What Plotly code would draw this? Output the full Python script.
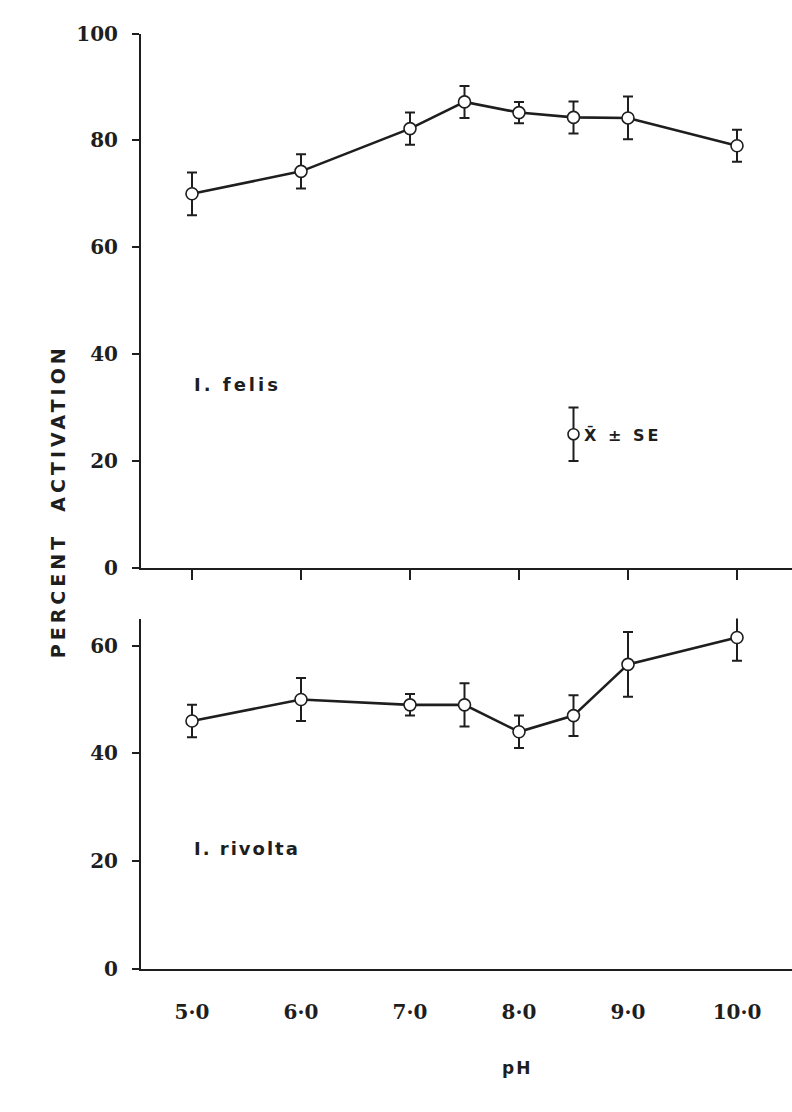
import plotly.graph_objects as go

# ---------------- data ----------------
ph = [5.0, 6.0, 7.0, 7.5, 8.0, 8.5, 9.0, 10.0]

felis_mean = [70.0, 74.2, 82.2, 87.2, 85.2, 84.3, 84.2, 79.0]
felis_se = [4.0, 3.2, 3.0, 3.0, 2.0, 3.0, 4.0, 3.0]

rivolta_mean = [46.0, 50.0, 49.0, 49.0, 44.0, 47.0, 56.5, 61.5]
rivolta_se = [3.0, 4.0, 2.0, 4.0, 3.0, 3.8, 6.0, 4.3]

x_tickvals = [5, 6, 7, 8, 9, 10]
x_ticktext = ["5·0", "6·0", "7·0", "8·0", "9·0", "10·0"]
top_yticks = [0, 20, 40, 60, 80, 100]
bottom_yticks = [0, 20, 40, 60]

key_x, key_y, key_se = [8.5], [25.0], [5.0]

# ---------------- geometry ----------------
W, H = 792, 1112
INK = "#1e1e1e"
AX_LEFT = 141
X_RANGE = [5 - 51 / 109, 5 - 51 / 109 + (W - AX_LEFT) / 109]


def py(p):
    return 1 - p / H


fig = go.Figure()

common_err = dict(type="data", visible=True, thickness=2, width=5, color=INK)
marker = dict(symbol="circle", size=12, color="white", line=dict(width=1.6, color=INK))

fig.add_trace(go.Scatter(
    x=ph, y=felis_mean, mode="lines+markers",
    line=dict(color=INK, width=2.6), marker=marker,
    error_y=dict(array=felis_se, **common_err),
    xaxis="x", yaxis="y", showlegend=False, cliponaxis=False))

fig.add_trace(go.Scatter(
    x=ph, y=rivolta_mean, mode="lines+markers",
    line=dict(color=INK, width=2.6), marker=marker,
    error_y=dict(array=rivolta_se, **common_err),
    xaxis="x2", yaxis="y2", showlegend=False, cliponaxis=False))

# key symbol (x̄ ± SE)
fig.add_trace(go.Scatter(
    x=key_x, y=key_y, mode="markers",
    marker=dict(symbol="circle", size=11, color="white", line=dict(width=1.6, color=INK)),
    error_y=dict(array=key_se, **common_err),
    xaxis="x", yaxis="y", showlegend=False, cliponaxis=False))

tickfont = dict(family="DejaVu Serif", size=20, color=INK, weight="bold")

fig.update_layout(
    width=W, height=H,
    margin=dict(l=0, r=0, t=0, b=0),
    paper_bgcolor="white", plot_bgcolor="white",
    xaxis=dict(domain=[AX_LEFT / W, 1], range=X_RANGE, anchor="y",
               showline=True, linecolor=INK, linewidth=2,
               tickvals=x_tickvals, ticks="outside", ticklen=10, tickwidth=2, tickcolor=INK,
               showticklabels=False, showgrid=False, zeroline=False),
    yaxis=dict(domain=[py(568), py(22)], range=[0, 100], anchor="x",
               showline=True, linecolor=INK, linewidth=2,
               tickvals=top_yticks, ticks="outside", ticklen=7, tickwidth=2, tickcolor=INK,
               tickfont=tickfont, ticklabelstandoff=10,
               showgrid=False, zeroline=False),
    xaxis2=dict(domain=[AX_LEFT / W, 1], range=X_RANGE, anchor="y2",
                showline=True, linecolor=INK, linewidth=2,
                tickvals=x_tickvals, ticktext=x_ticktext, ticks="",
                tickfont=tickfont, ticklabelstandoff=24,
                showgrid=False, zeroline=False),
    yaxis2=dict(domain=[py(978), py(620)], range=[0, 65], anchor="x2",
                showline=True, linecolor=INK, linewidth=2,
                tickvals=bottom_yticks, ticks="outside", ticklen=7, tickwidth=2, tickcolor=INK,
                tickfont=tickfont, ticklabelstandoff=10,
                showgrid=False, zeroline=False),
)

sans = "DejaVu Sans"
fig.add_annotation(text='<span style="letter-spacing:4px">PERCENT  ACTIVATION</span>',
                   xref="paper", yref="paper", x=45 / W, y=py(500), textangle=-90,
                   showarrow=False, font=dict(family=sans, size=19, color=INK, weight="bold"))
fig.add_annotation(text='<span style="letter-spacing:2px">pH</span>',
                   xref="paper", yref="paper", x=517 / W, y=py(1092),
                   showarrow=False, font=dict(family=sans, size=17, color=INK, weight="bold"))
fig.add_annotation(text='<span style="letter-spacing:3px">I. felis</span>',
                   xref="paper", yref="paper", x=192 / W, y=py(368), xanchor="left",
                   showarrow=False, font=dict(family=sans, size=18, color=INK, weight="bold"))
fig.add_annotation(text='<span style="letter-spacing:2px">I. rivolta</span>',
                   xref="paper", yref="paper", x=192 / W, y=py(868), xanchor="left",
                   showarrow=False, font=dict(family=sans, size=18, color=INK, weight="bold"))
fig.add_annotation(text='<span style="letter-spacing:3px">X̄ ± SE</span>',
                   xref="paper", yref="paper", x=582 / W, y=py(432), xanchor="left",
                   showarrow=False, font=dict(family=sans, size=16, color=INK, weight="bold"))

fig.write_html("out.html")
